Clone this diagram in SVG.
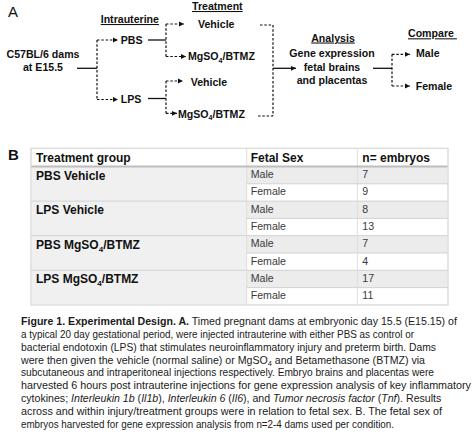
<svg xmlns="http://www.w3.org/2000/svg" width="474" height="434" viewBox="0 0 474 434">
<style>
text{font-family:"Liberation Sans",Arial,sans-serif;fill:#111}
.lbl{font-size:15px}
.b{font-size:10.6px;font-weight:bold}
.hd{font-size:10.6px;font-weight:bold;text-decoration:underline}
.solid{stroke:#111;stroke-width:1.3;fill:none}
.dash{stroke:#111;stroke-width:1.2;fill:none;stroke-dasharray:2.5 1.8}
.th{font-size:12px;font-weight:bold}
.td{font-size:10.6px;fill:#3a3a3a}
.grid{stroke:#d2d2d2;stroke-width:1}
.cap{font-size:10.6px;fill:#1a1a1a}
</style>
<defs>
<marker id="ah" markerWidth="6" markerHeight="6" refX="5" refY="3" orient="auto" markerUnits="userSpaceOnUse">
<path d="M0,0.6 L5,3 L0,5.4 Z" fill="#111"/>
</marker>
</defs>
<rect width="474" height="434" fill="#ffffff"/>

<text class="lbl" x="8" y="17">A</text>
<text class="lbl" x="8" y="160" font-weight="bold" font-size="13">B</text>

<g id="headers">
<text class="hd" x="100.7" y="23">Intrauterine</text>
<text class="hd" x="192" y="10">Treatment</text>
<text class="hd" x="333" y="41.5" text-anchor="middle">Analysis</text>
<text class="hd" x="408" y="37.3" xml:space="preserve">Compare </text>
</g>

<g id="node-dams">
<text class="b" x="43" y="58" text-anchor="middle">C57BL/6 dams</text>
<text class="b" x="43" y="71" text-anchor="middle">at E15.5</text>
</g>
<g id="node-pbs"><text class="b" x="120.7" y="44">PBS</text></g>
<g id="node-lps"><text class="b" x="120.7" y="102.5">LPS</text></g>
<g id="node-pbs-vehicle"><text class="b" x="198" y="27.5">Vehicle</text></g>
<g id="node-pbs-mgso4"><text class="b" x="188" y="60">MgSO<tspan font-size="7" dy="2.5">4</tspan><tspan dy="-2.5">/BTMZ</tspan></text></g>
<g id="node-lps-vehicle"><text class="b" x="190.7" y="85.5">Vehicle</text></g>
<g id="node-lps-mgso4"><text class="b" x="178" y="117.5">MgSO<tspan font-size="7" dy="2.5">4</tspan><tspan dy="-2.5">/BTMZ</tspan></text></g>
<g id="node-analysis">
<text class="b" x="332" y="57.3" text-anchor="middle">Gene expression</text>
<text class="b" x="332" y="70.7" text-anchor="middle">fetal brains</text>
<text class="b" x="332" y="83.5" text-anchor="middle">and placentas</text>
</g>
<g id="node-male"><text class="b" x="416" y="57">Male</text></g>
<g id="node-female"><text class="b" x="415.7" y="89.5">Female</text></g>

<g id="connectors">
<line class="solid" x1="77" y1="68.3" x2="97" y2="68.3"/>
<line class="dash" x1="97" y1="40" x2="97" y2="99.5"/>
<line class="dash" x1="97" y1="40" x2="118" y2="40" marker-end="url(#ah)"/>
<line class="dash" x1="97" y1="99.5" x2="118" y2="99.5" marker-end="url(#ah)"/>

<line class="solid" x1="148" y1="40" x2="166" y2="40"/>
<line class="dash" x1="166" y1="24" x2="166" y2="56.5"/>
<line class="dash" x1="166" y1="24" x2="184" y2="24" marker-end="url(#ah)"/>
<line class="dash" x1="166" y1="56.5" x2="186" y2="56.5" marker-end="url(#ah)"/>

<line class="solid" x1="148" y1="98.5" x2="166" y2="98.5"/>
<line class="dash" x1="166" y1="81" x2="166" y2="113.3"/>
<line class="dash" x1="166" y1="81" x2="183" y2="81" marker-end="url(#ah)"/>
<line class="dash" x1="166" y1="113.3" x2="177" y2="113.3" marker-end="url(#ah)"/>

<line class="dash" x1="260" y1="25" x2="273" y2="25"/>
<line class="dash" x1="258" y1="116" x2="273" y2="116"/>
<line class="dash" x1="273" y1="25" x2="273" y2="116"/>
<line class="solid" x1="273" y1="68.3" x2="296" y2="68.3" marker-end="url(#ah)"/>

<line class="solid" x1="373" y1="68.3" x2="392" y2="68.3"/>
<line class="dash" x1="392" y1="54.3" x2="392" y2="86"/>
<line class="dash" x1="392" y1="54.3" x2="410" y2="54.3" marker-end="url(#ah)"/>
<line class="dash" x1="392" y1="86" x2="410" y2="86" marker-end="url(#ah)"/>
</g>

<g id="table">
<rect x="31" y="148.3" width="417" height="156.6" fill="#ffffff" stroke="#dcdcdc" stroke-width="1"/>
<rect x="31" y="166.5" width="215.7" height="138.4" fill="#f0f0f0"/>
<rect x="246.7" y="166.5" width="201.3" height="17.3" fill="#ececec"/>
<rect x="246.7" y="201.1" width="201.3" height="17.3" fill="#ececec"/>
<rect x="246.7" y="235.7" width="201.3" height="17.3" fill="#ececec"/>
<rect x="246.7" y="270.3" width="201.3" height="17.3" fill="#ececec"/>
<line class="grid" x1="246.7" y1="183.8" x2="448" y2="183.8"/>
<line class="grid" x1="246.7" y1="218.4" x2="448" y2="218.4"/>
<line class="grid" x1="246.7" y1="253" x2="448" y2="253"/>
<line class="grid" x1="246.7" y1="287.6" x2="448" y2="287.6"/>
<line class="grid" x1="31" y1="201.1" x2="448" y2="201.1"/>
<line class="grid" x1="31" y1="235.7" x2="448" y2="235.7"/>
<line class="grid" x1="31" y1="270.3" x2="448" y2="270.3"/>
<line x1="246.7" y1="148.3" x2="246.7" y2="304.9" stroke="#dedede" stroke-width="1"/>
<line x1="357.3" y1="148.3" x2="357.3" y2="304.9" stroke="#dedede" stroke-width="1"/>
<line x1="31" y1="166.5" x2="448" y2="166.5" stroke="#bdbdbd" stroke-width="2"/>
<rect x="31" y="148.3" width="417" height="156.6" fill="none" stroke="#dcdcdc" stroke-width="1"/>

<text class="th" x="36" y="161.7">Treatment group</text>
<text class="th" x="250.7" y="161.7">Fetal Sex</text>
<text class="th" x="362.3" y="161.7">n= embryos</text>

<text class="th" x="36" y="179.5">PBS Vehicle</text>
<text class="th" x="36" y="214.1">LPS Vehicle</text>
<text class="th" x="36" y="248.7">PBS MgSO<tspan font-size="8" dy="3">4</tspan><tspan dy="-3">/BTMZ</tspan></text>
<text class="th" x="36" y="283.3">LPS MgSO<tspan font-size="8" dy="3">4</tspan><tspan dy="-3">/BTMZ</tspan></text>

<text class="td" x="250.7" y="178">Male</text><text class="td" x="362.3" y="178">7</text>
<text class="td" x="250.7" y="195.3">Female</text><text class="td" x="362.3" y="195.3">9</text>
<text class="td" x="250.7" y="212.6">Male</text><text class="td" x="362.3" y="212.6">8</text>
<text class="td" x="250.7" y="229.9">Female</text><text class="td" x="362.3" y="229.9">13</text>
<text class="td" x="250.7" y="247.2">Male</text><text class="td" x="362.3" y="247.2">7</text>
<text class="td" x="250.7" y="264.5">Female</text><text class="td" x="362.3" y="264.5">4</text>
<text class="td" x="250.7" y="281.8">Male</text><text class="td" x="362.3" y="281.8">17</text>
<text class="td" x="250.7" y="299.1">Female</text><text class="td" x="362.3" y="299.1">11</text>
</g>

<g id="caption">
<text class="cap" x="21" y="325"><tspan font-weight="bold">Figure 1. Experimental Design. A.</tspan> Timed pregnant dams at embryonic day 15.5 (E15.15) of</text>
<text class="cap" x="21" y="337.85" textLength="393" lengthAdjust="spacingAndGlyphs">a typical 20 day gestational period, were injected intrauterine with either PBS as control or</text>
<text class="cap" x="21" y="350.7" textLength="415" lengthAdjust="spacingAndGlyphs">bacterial endotoxin (LPS) that stimulates neuroinflammatory injury and preterm birth. Dams</text>
<text class="cap" x="21" y="363.55">were then given the vehicle (normal saline) or MgSO<tspan font-size="7.5" dy="2">4</tspan><tspan dy="-2"> and Betamethasone (BTMZ) via</tspan></text>
<text class="cap" x="21" y="376.4" textLength="413" lengthAdjust="spacingAndGlyphs">subcutaneous and intraperitoneal injections respectively. Embryo brains and placentas were</text>
<text class="cap" x="21" y="389.25" textLength="450" lengthAdjust="spacingAndGlyphs">harvested 6 hours post intrauterine injections for gene expression analysis of key inflammatory</text>
<text class="cap" x="21" y="402.1">cytokines; <tspan font-style="italic">Interleukin 1b</tspan> (<tspan font-style="italic">Il1b</tspan>), <tspan font-style="italic">Interleukin 6</tspan> (<tspan font-style="italic">Il6</tspan>), and <tspan font-style="italic">Tumor necrosis factor</tspan> (<tspan font-style="italic">Tnf</tspan>). Results</text>
<text class="cap" x="21" y="414.95" textLength="421" lengthAdjust="spacingAndGlyphs">across and within injury/treatment groups were in relation to fetal sex. B. The fetal sex of</text>
<text class="cap" x="21" y="427.8" textLength="373" lengthAdjust="spacingAndGlyphs">embryos harvested for gene expression analysis from n=2-4 dams used per condition.</text>
</g>
</svg>
